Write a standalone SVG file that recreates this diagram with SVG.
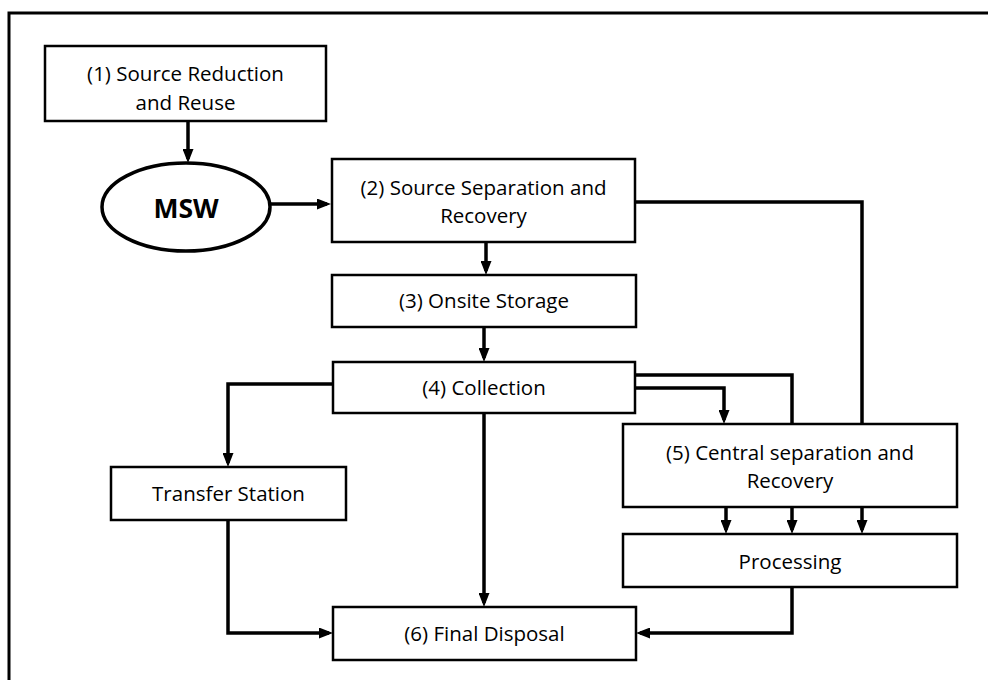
<svg xmlns="http://www.w3.org/2000/svg" width="988" height="680" viewBox="0 0 988 680">
  <style>
    .box { fill: #ffffff; stroke: #000000; stroke-width: 2.5; }
    .lbl { font-family: "Open Sans", "Liberation Sans", sans-serif; font-size: 20.5px; fill: #000000; text-anchor: middle; dominant-baseline: central; }
    .bold { font-weight: bold; font-size: 26.5px; }
    .wire { fill: none; stroke: #000000; stroke-width: 3.5; stroke-linejoin: miter; }
    .arrow { marker-end: url(#head); }
  </style>
  <defs>
    <marker id="head" markerUnits="userSpaceOnUse" markerWidth="14" markerHeight="11" viewBox="0 0 14 11" refX="10" refY="5.5" orient="auto">
      <path d="M0,0 L14,5.5 L0,11 z" fill="#000000"/>
    </marker>
  </defs>

  <!-- outer frame -->
  <rect x="9" y="13" width="990" height="690" fill="none" stroke="#000000" stroke-width="3"/>

  <!-- connectors -->
  <g id="connectors">
    <path class="wire arrow" d="M188,121 V159"/>
    <path class="wire arrow" d="M270,204 H327"/>
    <path class="wire arrow" d="M486,242 V271"/>
    <path class="wire arrow" d="M484,327 V358"/>
    <path class="wire" d="M635,202 H862 V424"/>
    <path class="wire arrow" d="M333,384 H228 V463"/>
    <path class="wire arrow" d="M484,413 V603"/>
    <path class="wire" d="M635,375 H792 V424"/>
    <path class="wire arrow" d="M635,388 H724 V420"/>
    <path class="wire arrow" d="M726,507 V530"/>
    <path class="wire arrow" d="M792,507 V530"/>
    <path class="wire arrow" d="M862,507 V530"/>
    <path class="wire arrow" d="M228,520 V633 H329"/>
    <path class="wire arrow" d="M792,587 V633 H640"/>
  </g>

  <g id="node-source-reduction">
    <rect class="box" x="45" y="46" width="281" height="75"/>
    <text class="lbl" x="185.5" y="73">(1) Source Reduction</text>
    <text class="lbl" x="185.5" y="102">and Reuse</text>
  </g>

  <g id="node-msw">
    <ellipse cx="186" cy="207" rx="84" ry="44" fill="#ffffff" stroke="#000000" stroke-width="3.5"/>
    <text class="lbl bold" x="186" y="208">MSW</text>
  </g>

  <g id="node-source-separation">
    <rect class="box" x="332" y="159" width="303" height="83"/>
    <text class="lbl" x="483.5" y="187">(2) Source Separation and</text>
    <text class="lbl" x="483.5" y="215">Recovery</text>
  </g>

  <g id="node-onsite-storage">
    <rect class="box" x="332" y="275" width="304" height="52"/>
    <text class="lbl" x="484" y="300">(3) Onsite Storage</text>
  </g>

  <g id="node-collection">
    <rect class="box" x="333" y="362" width="302" height="51"/>
    <text class="lbl" x="484" y="387">(4) Collection</text>
  </g>

  <g id="node-transfer-station">
    <rect class="box" x="111" y="467" width="235" height="53"/>
    <text class="lbl" x="228.5" y="493">Transfer Station</text>
  </g>

  <g id="node-central-separation">
    <rect class="box" x="623" y="424" width="334" height="83"/>
    <text class="lbl" x="790" y="452">(5) Central separation and</text>
    <text class="lbl" x="790" y="480">Recovery</text>
  </g>

  <g id="node-processing">
    <rect class="box" x="623" y="534" width="334" height="53"/>
    <text class="lbl" x="790" y="561">Processing</text>
  </g>

  <g id="node-final-disposal">
    <rect class="box" x="333" y="607" width="303" height="53"/>
    <text class="lbl" x="484.5" y="633">(6) Final Disposal</text>
  </g>
</svg>
